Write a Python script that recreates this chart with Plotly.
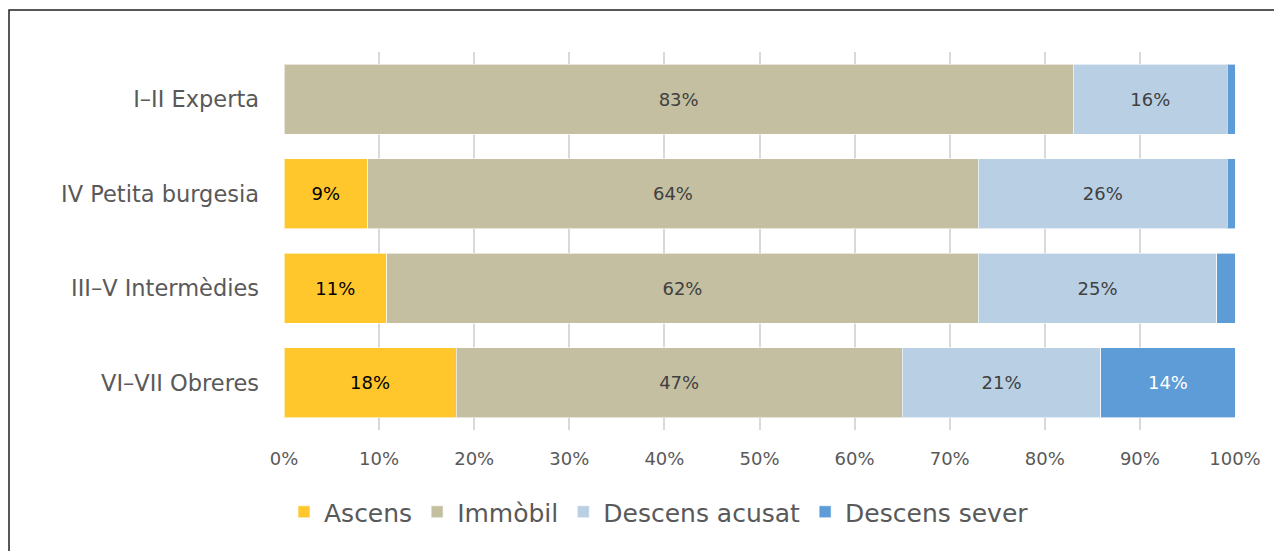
import plotly.graph_objects as go

categories = ["I–II Experta", "IV Petita burgesia", "III–V Intermèdies", "VI–VII Obreres"]
series_names = ["Ascens", "Immòbil", "Descens acusat", "Descens sever"]
ascens = [0, 8.8, 10.8, 18.1]
immobil = [83.0, 64.2, 62.2, 46.9]
descens_acusat = [16.2, 26.2, 25.1, 20.9]
descens_sever = [0.8, 0.8, 1.9, 14.1]
ascens_labels = ["", "9%", "11%", "18%"]
immobil_labels = ["83%", "64%", "62%", "47%"]
acusat_labels = ["16%", "26%", "25%", "21%"]
sever_labels = ["", "", "", "14%"]
tick_vals = [0, 10, 20, 30, 40, 50, 60, 70, 80, 90, 100]
tick_text = ["0%", "10%", "20%", "30%", "40%", "50%", "60%", "70%", "80%", "90%", "100%"]

colors = ["#FFC72C", "#C4BFA1", "#B8CFE4", "#5D9CD6"]
text_colors = ["#000000", "#404040", "#404040", "#FFFFFF"]
values = [ascens, immobil, descens_acusat, descens_sever]
labels = [ascens_labels, immobil_labels, acusat_labels, sever_labels]

FONT = "DejaVu Sans"
# page body has an 8px default margin; figure sized/offset to compensate
W, H = 1274, 543
L, R, T, B = 276, 47, 44, 121
plot_w = W - L - R
plot_h = H - T - B

fig = go.Figure()
for name, vals, labs, col, tcol in zip(series_names, values, labels, colors, text_colors):
    fig.add_trace(go.Bar(
        y=categories, x=vals, name=name, orientation="h",
        marker=dict(color=col, line=dict(color="rgba(255,255,255,0.6)", width=1)),
        text=labs, textposition="inside", insidetextanchor="middle",
        textfont=dict(family=FONT, size=18, color=tcol),
        textangle=0, width=0.74, hoverinfo="skip",
    ))

fig.update_layout(
    barmode="stack",
    width=W, height=H,
    margin=dict(l=L, r=R, t=T, b=B),
    paper_bgcolor="white", plot_bgcolor="white",
    font=dict(family=FONT, color="#595959"),
    uniformtext=dict(mode="show", minsize=10),
    showlegend=True,
    legend=dict(orientation="h", x=(659 - 8 - L) / plot_w, xanchor="center",
                y=-(512 - 8 - (T + plot_h)) / plot_h, yanchor="middle",
                font=dict(family=FONT, size=25, color="#595959"),
                traceorder="normal", itemwidth=30),
    xaxis=dict(range=[0, 100], tickvals=tick_vals, ticktext=tick_text,
               showgrid=True, gridcolor="#D9D9D9", gridwidth=2,
               zeroline=False, showline=False,
               tickfont=dict(family=FONT, size=18, color="#595959"),
               ticklabelstandoff=16, fixedrange=True),
    yaxis=dict(categoryorder="array", categoryarray=categories, autorange="reversed",
               showgrid=False, zeroline=False, showline=False,
               tickfont=dict(family=FONT, size=22.5, color="#595959"),
               ticklabelstandoff=24, fixedrange=True),
    shapes=[dict(type="rect", xref="paper", yref="paper",
                 x0=(1 - L) / plot_w, x1=1.2, y0=-0.6, y1=(T + plot_h - 2) / plot_h,
                 line=dict(color="#222222", width=1.5), fillcolor="rgba(0,0,0,0)", layer="below")],
)

fig.write_html("out.html")
